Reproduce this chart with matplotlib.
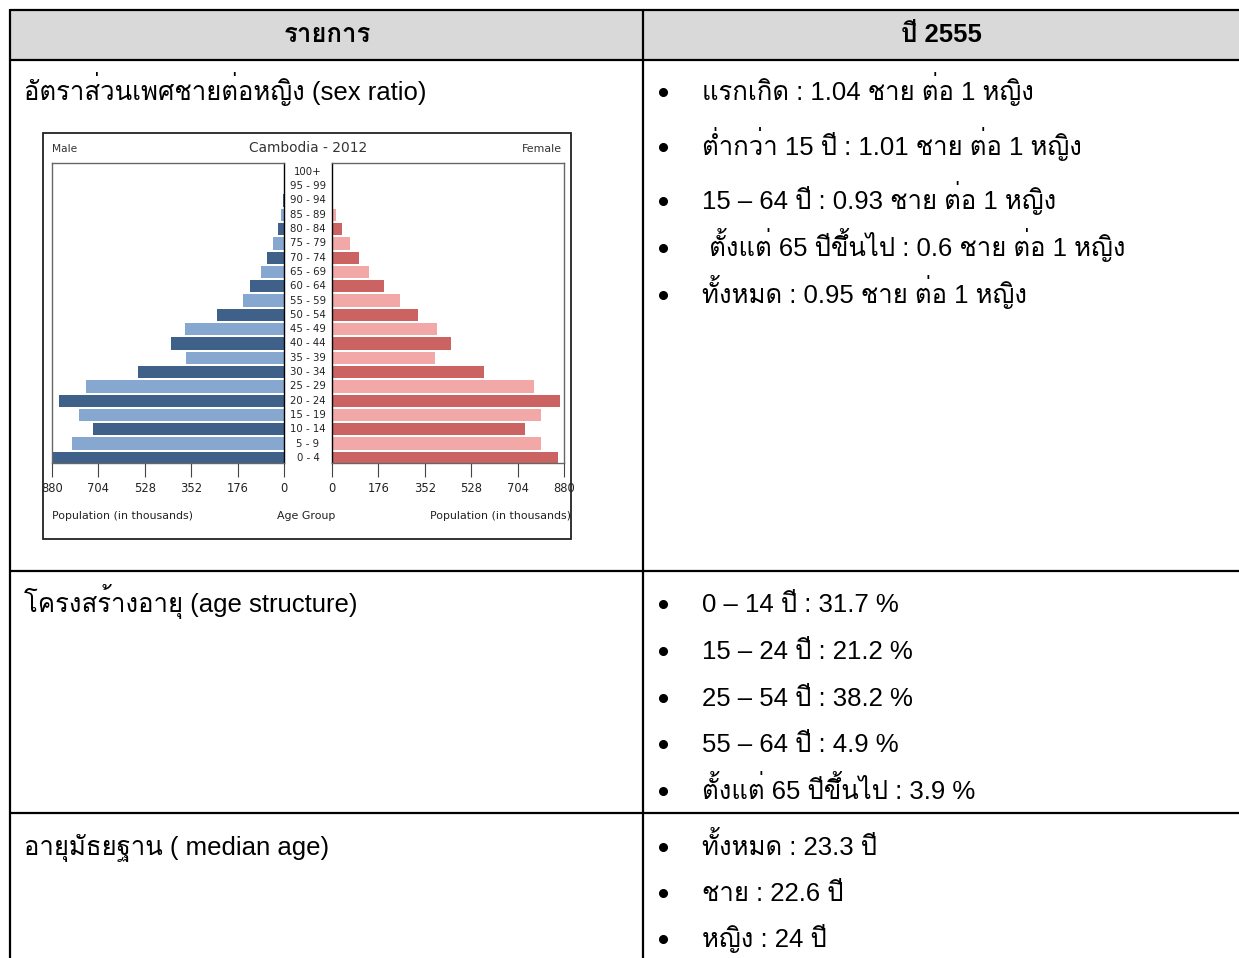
import numpy as np
import matplotlib
matplotlib.use("Agg")
import matplotlib.pyplot as plt
from matplotlib import font_manager
from matplotlib.ft2font import FT2Font
from matplotlib.patches import Rectangle
import matplotlib.transforms as mtrans

# ---------------- data ----------------
age_groups = ["0 - 4", "5 - 9", "10 - 14", "15 - 19", "20 - 24", "25 - 29", "30 - 34",
              "35 - 39", "40 - 44", "45 - 49", "50 - 54", "55 - 59", "60 - 64", "65 - 69",
              "70 - 74", "75 - 79", "80 - 84", "85 - 89", "90 - 94", "95 - 99", "100+"]
male = [878, 805, 724, 777, 855, 750, 555, 372, 428, 375, 254, 156, 130, 89, 64, 41, 21, 10, 2, 0.5, 0]
female = [858, 794, 733, 794, 866, 765, 576, 389, 450, 398, 326, 257, 198, 139, 102, 67, 37, 17, 4, 1, 0]
x_ticks = [0, 176, 352, 528, 704, 880]

header = ["รายการ", "ปี 2555"]
row_titles = ["อัตราส่วนเพศชายต่อหญิง (sex ratio)",
              "โครงสร้างอายุ (age structure)",
              "อายุมัธยฐาน ( median age)"]
sex_ratio_items = ["แรกเกิด : 1.04 ชาย ต่อ 1 หญิง",
                   "ต่ำกว่า 15 ปี : 1.01 ชาย ต่อ 1 หญิง",
                   "15 – 64 ปี : 0.93 ชาย ต่อ 1 หญิง",
                   " ตั้งแต่ 65 ปีขึ้นไป : 0.6 ชาย ต่อ 1 หญิง",
                   "ทั้งหมด : 0.95 ชาย ต่อ 1 หญิง"]
age_structure_items = ["0 – 14 ปี : 31.7 %",
                       "15 – 24 ปี : 21.2 %",
                       "25 – 54 ปี : 38.2 %",
                       "55 – 64 ปี : 4.9 %",
                       "ตั้งแต่ 65 ปีขึ้นไป : 3.9 %"]
median_age_items = ["ทั้งหมด : 23.3 ปี",
                    "ชาย : 22.6 ปี",
                    "หญิง : 24 ปี"]

# ---------------- fonts ----------------
thai_fonts = []
for f in font_manager.fontManager.ttflist:
    try:
        cm = FT2Font(f.fname).get_charmap()
        if 0x0E32 in cm and f.name not in thai_fonts:
            thai_fonts.append(f.name)
    except Exception:
        pass
pref = ["Loma", "Garuda", "Norasi", "Waree", "Umpush", "Sawasdee", "Noto Sans Thai",
        "Noto Sans Thai UI", "Kinnari", "Laksaman", "Anuphan"]
thai_font = None
for p in pref:
    if p in thai_fonts:
        thai_font = p
        break
if thai_font is None and thai_fonts:
    thai_font = thai_fonts[0]
fam = ["Liberation Sans"] + ([thai_font] if thai_font else []) + ["DejaVu Sans"]

W, H = 1239, 958
fig = plt.figure(figsize=(W / 100, H / 100), dpi=100)
fig.patch.set_facecolor("white")

# table axes in pixel coordinates
tab = fig.add_axes([0, 0, 1, 1])
tab.set_xlim(0, W)
tab.set_ylim(H, 0)
tab.axis("off")

lw = 1.6
tab.add_patch(Rectangle((10, 10), W, 50, facecolor="#d9d9d9", edgecolor="none", zorder=0))
for y in [10, 60, 571, 813]:
    tab.plot([10, W + 5], [y, y], color="black", lw=lw, solid_capstyle="butt")
for x in [10, 643]:
    tab.plot([x, x], [9, H + 5], color="black", lw=lw, solid_capstyle="butt")

fs = 18.5
tab.text(327, 42, header[0], fontsize=fs, fontweight="bold", ha="center", va="baseline", family=fam)
tab.text(941, 42, header[1], fontsize=fs, fontweight="bold", ha="center", va="baseline", family=fam)

title_y = [100, 612, 855]
for t, y in zip(row_titles, title_y):
    tab.text(24, y, t, fontsize=fs, ha="left", va="baseline", family=fam)

item_groups = [(sex_ratio_items, [100, 155, 209, 256, 303]),
               (age_structure_items, [612, 659, 706, 752, 799]),
               (median_age_items, [855, 901, 947])]
for items, ys in item_groups:
    for t, y in zip(items, ys):
        tab.plot([663], [y - 8], marker="o", ms=5.5, color="black")
        tab.text(702, y, t, fontsize=fs, ha="left", va="baseline", family=fam)

# ---------------- pyramid ----------------
box = Rectangle((43, 133), 528, 406, facecolor="white", edgecolor="#222222", lw=1.3, zorder=1)
tab.add_patch(box)

def fig_rect(l, t, r, b):
    return [l / W, 1 - b / H, (r - l) / W, (b - t) / H]

ax_m = fig.add_axes(fig_rect(52, 163, 284, 463))
ax_f = fig.add_axes(fig_rect(332, 163, 564, 463))

ypos = np.arange(len(age_groups))
male_cols = ["#3f6089" if i % 2 == 0 else "#86a7cf" for i in ypos]
fem_cols = ["#cc6363" if i % 2 == 0 else "#f3a8a8" for i in ypos]
ax_m.barh(ypos, male, height=0.86, color=male_cols)
ax_f.barh(ypos, female, height=0.86, color=fem_cols)

tfs = 7.3
for ax, side in [(ax_m, "m"), (ax_f, "f")]:
    ax.set_ylim(-0.36, 20.62)
    ax.set_yticks([])
    ax.set_xticks(x_ticks)
    ax.set_xticklabels([str(v) for v in x_ticks], fontsize=8.3, color="#222222", family="DejaVu Sans")
    ax.tick_params(axis="x", direction="out", length=10, width=0.8, color="#444444", pad=4)
    for s in ax.spines.values():
        s.set_color("#666666")
        s.set_linewidth(1.0)
ax_m.set_xlim(880, 0)
ax_f.set_xlim(0, 880)
ax_m.spines["right"].set_color("black")
ax_f.spines["left"].set_color("black")

bt = mtrans.blended_transform_factory(tab.transData, ax_m.transData)
for i, lab in enumerate(age_groups):
    tab.text(308, i, lab, transform=bt, fontsize=tfs, ha="center", va="center",
             color="#222222", family="DejaVu Sans")

small = 7.9
tab.text(308, 148, "Cambodia - 2012", fontsize=9.9, ha="center", va="center", color="#333333", family="DejaVu Sans")
tab.text(52, 149, "Male", fontsize=7.7, ha="left", va="center", color="#333333", family="DejaVu Sans")
tab.text(562, 149, "Female", fontsize=7.9, ha="right", va="center", color="#333333", family="DejaVu Sans")
tab.text(52, 516, "Population (in thousands)", fontsize=small, ha="left", va="center", color="#222222", family="DejaVu Sans")
tab.text(306, 516, "Age Group", fontsize=small, ha="center", va="center", color="#222222", family="DejaVu Sans")
tab.text(571, 516, "Population (in thousands)", fontsize=small, ha="right", va="center", color="#222222", family="DejaVu Sans")

fig.savefig("out.png", dpi=100)
